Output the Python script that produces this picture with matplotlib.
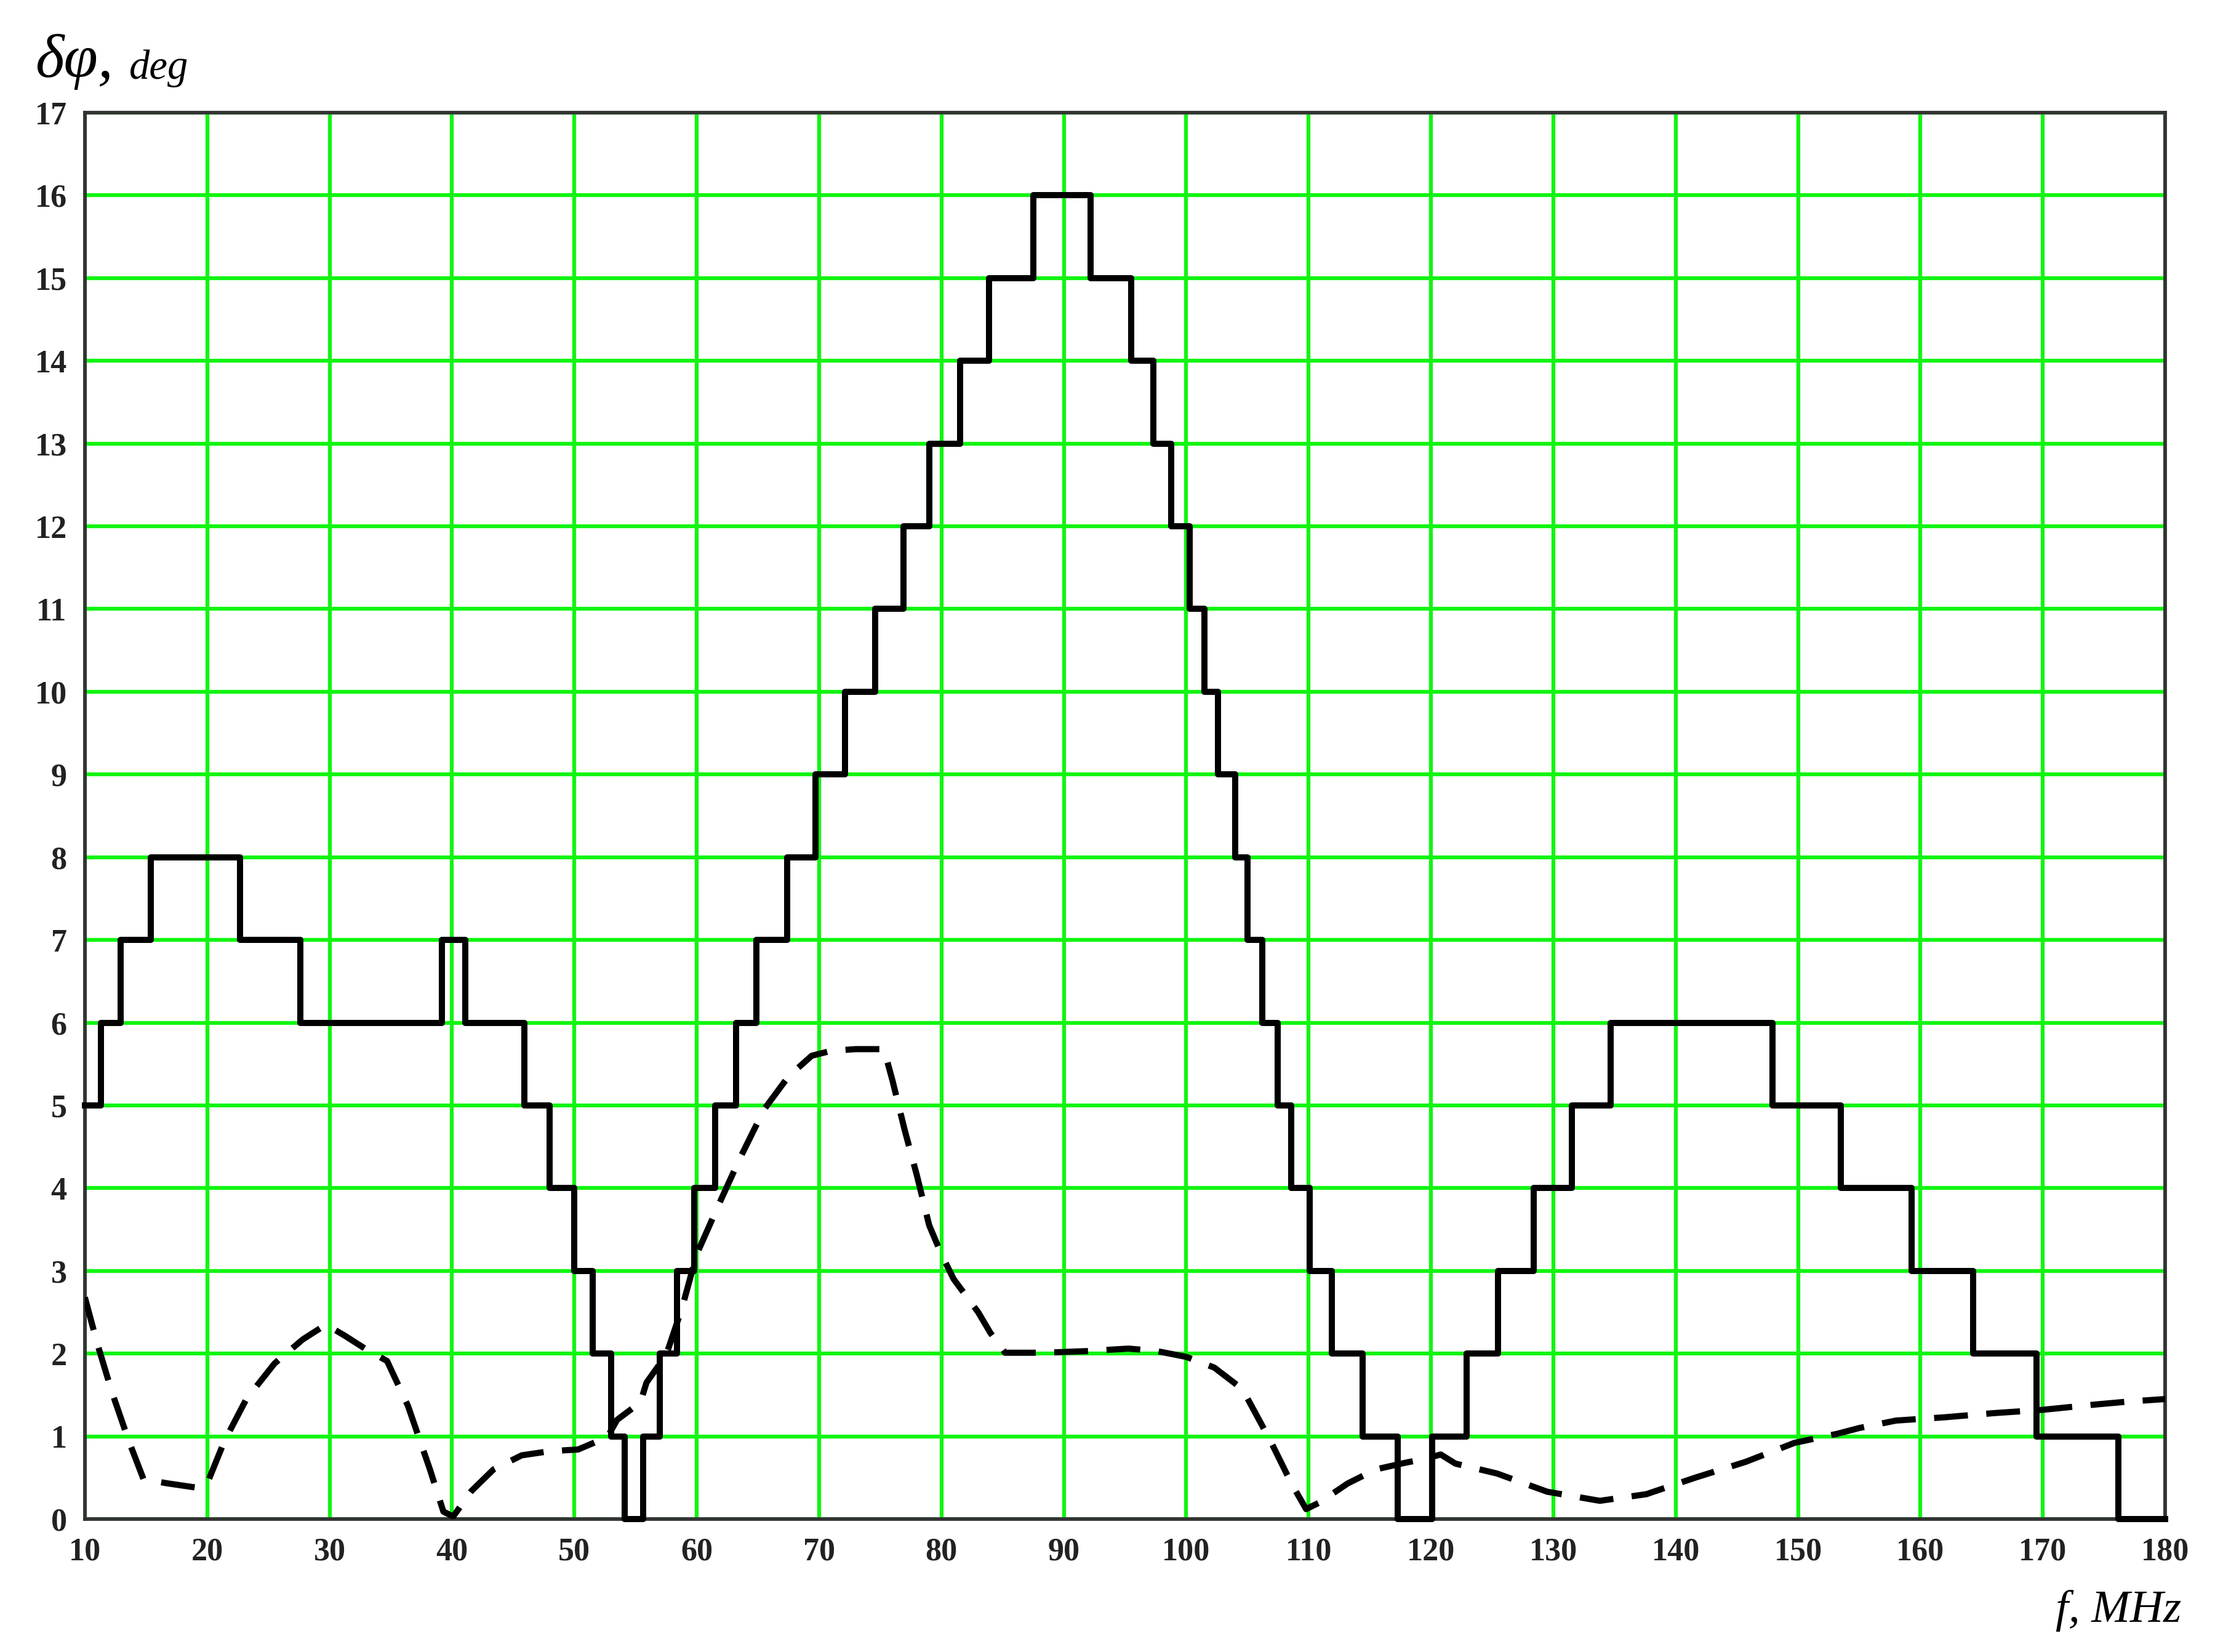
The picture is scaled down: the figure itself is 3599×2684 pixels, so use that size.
import matplotlib
matplotlib.use("Agg")
import matplotlib.pyplot as plt

# solid step curve: edges (MHz) and level (deg) that starts at each edge
step_f = [10, 11.3, 12.9, 15.4, 22.7, 27.6, 39.2, 41.1, 45.9, 48.0,
          50.0, 51.5, 53.0, 54.1, 55.6, 57.0, 58.4, 59.8, 61.5, 63.2,
          64.9, 67.4, 69.7, 72.1, 74.6, 76.9, 79.0, 81.5, 83.9, 87.5,
          92.2, 95.5, 97.3, 98.8, 100.3, 101.5, 102.6, 104.0, 105.0, 106.2,
          107.5, 108.6, 110.1, 111.9, 114.4, 117.3, 120.1, 122.9, 125.5, 128.4,
          131.5, 134.7, 147.9, 153.5, 159.3, 164.3, 169.5, 176.2, 180]
step_v = [5, 6, 7, 8, 7, 6, 7, 6, 5, 4,
          3, 2, 1, 0, 1, 2, 3, 4, 5, 6,
          7, 8, 9, 10, 11, 12, 13, 14, 15, 16,
          15, 14, 13, 12, 11, 10, 9, 8, 7, 6,
          5, 4, 3, 2, 1, 0, 1, 2, 3, 4,
          5, 6, 5, 4, 3, 2, 1, 0, 0]

# dashed curve
dash_f = [10, 11, 12.2, 13.6, 14.8, 16.8, 19.1, 20, 21.4, 23.2,
          25.5, 27.8, 29.7, 31.2, 33, 34.7, 36.4, 38.2, 39.3, 40.1,
          41.6, 43.4, 45.7, 48, 50.3, 52.7, 53.5, 55.4, 55.9, 57.5,
          58.8, 60, 61.8, 63.5, 65.5, 67.5, 69.4, 71, 73, 75.3,
          76, 77, 78, 79, 80, 81, 82, 83, 84, 85.2,
          88.4, 91.9, 95.3, 97.6, 100, 102.3, 104.6, 106.9, 108.6, 109.8,
          110.9, 113.2, 115.5, 117.9, 119.6, 120.8, 122, 125.4, 129.5, 133.8,
          137.6, 141.6, 145.7, 149.7, 153.2, 155, 158, 162, 166, 170,
          174, 177, 180]
dash_v = [2.68, 2.13, 1.54, 0.94, 0.48, 0.43, 0.38, 0.43, 0.94, 1.45,
          1.88, 2.17, 2.35, 2.22, 2.05, 1.91, 1.37, 0.6, 0.09, 0.03,
          0.34, 0.6, 0.77, 0.82, 0.84, 0.99, 1.2, 1.41, 1.65, 1.98,
          2.55, 3.2, 3.8, 4.35, 4.95, 5.35, 5.6, 5.66, 5.68, 5.68,
          5.3, 4.7, 4.15, 3.55, 3.2, 2.9, 2.7, 2.5, 2.25, 2.01,
          2.01, 2.03, 2.06, 2.03, 1.96, 1.83, 1.57, 0.94, 0.43, 0.12,
          0.2, 0.43, 0.6, 0.68, 0.73, 0.78, 0.67, 0.55, 0.33, 0.22,
          0.3, 0.5, 0.69, 0.92, 1.03, 1.1, 1.19, 1.23, 1.28, 1.32,
          1.38, 1.42, 1.45]

x_ticks = list(range(10, 181, 10))
y_ticks = list(range(0, 18))

fig = plt.figure(figsize=(3599 / 300, 2684 / 300), dpi=300)
ax = fig.add_axes([0.0383, 0.0805, 0.9392, 0.8513])

ax.plot(step_f, step_v, drawstyle='steps-post', color='black', lw=2.4,
        zorder=4, clip_on=False)
ax.plot(dash_f, dash_v, color='black', lw=2.4, linestyle=(0, (5.5, 3.0)),
        zorder=3)

ax.set_xlim(10, 180)
ax.set_ylim(0, 17)
ax.set_xticks(x_ticks)
ax.set_yticks(y_ticks)
ax.grid(True, color='#11f511', lw=1.5, zorder=1)
ax.set_axisbelow(True)
ax.tick_params(length=0, pad=7, labelsize=12.5)
for lab in ax.get_xticklabels() + ax.get_yticklabels():
    lab.set_family('Liberation Serif')
    lab.set_weight('bold')
    lab.set_color('#222222')
for s in ax.spines.values():
    s.set_color('#333333')
    s.set_linewidth(1.4)
    s.set_zorder(2)

# axis titles
fig.text(57 / 3599, 1 - 125 / 2684, 'δφ,', family='Liberation Serif',
         style='italic', fontsize=24, va='baseline', ha='left')
fig.text(210 / 3599, 1 - 128 / 2684, 'deg', family='Liberation Serif',
         style='italic', fontsize=16, va='baseline', ha='left')
fig.text(3340 / 3599, 1 - 2635 / 2684, 'f, MHz', family='Liberation Serif',
         style='italic', fontsize=18, va='baseline', ha='left')

fig.savefig('out.png', dpi=300, facecolor='white')
